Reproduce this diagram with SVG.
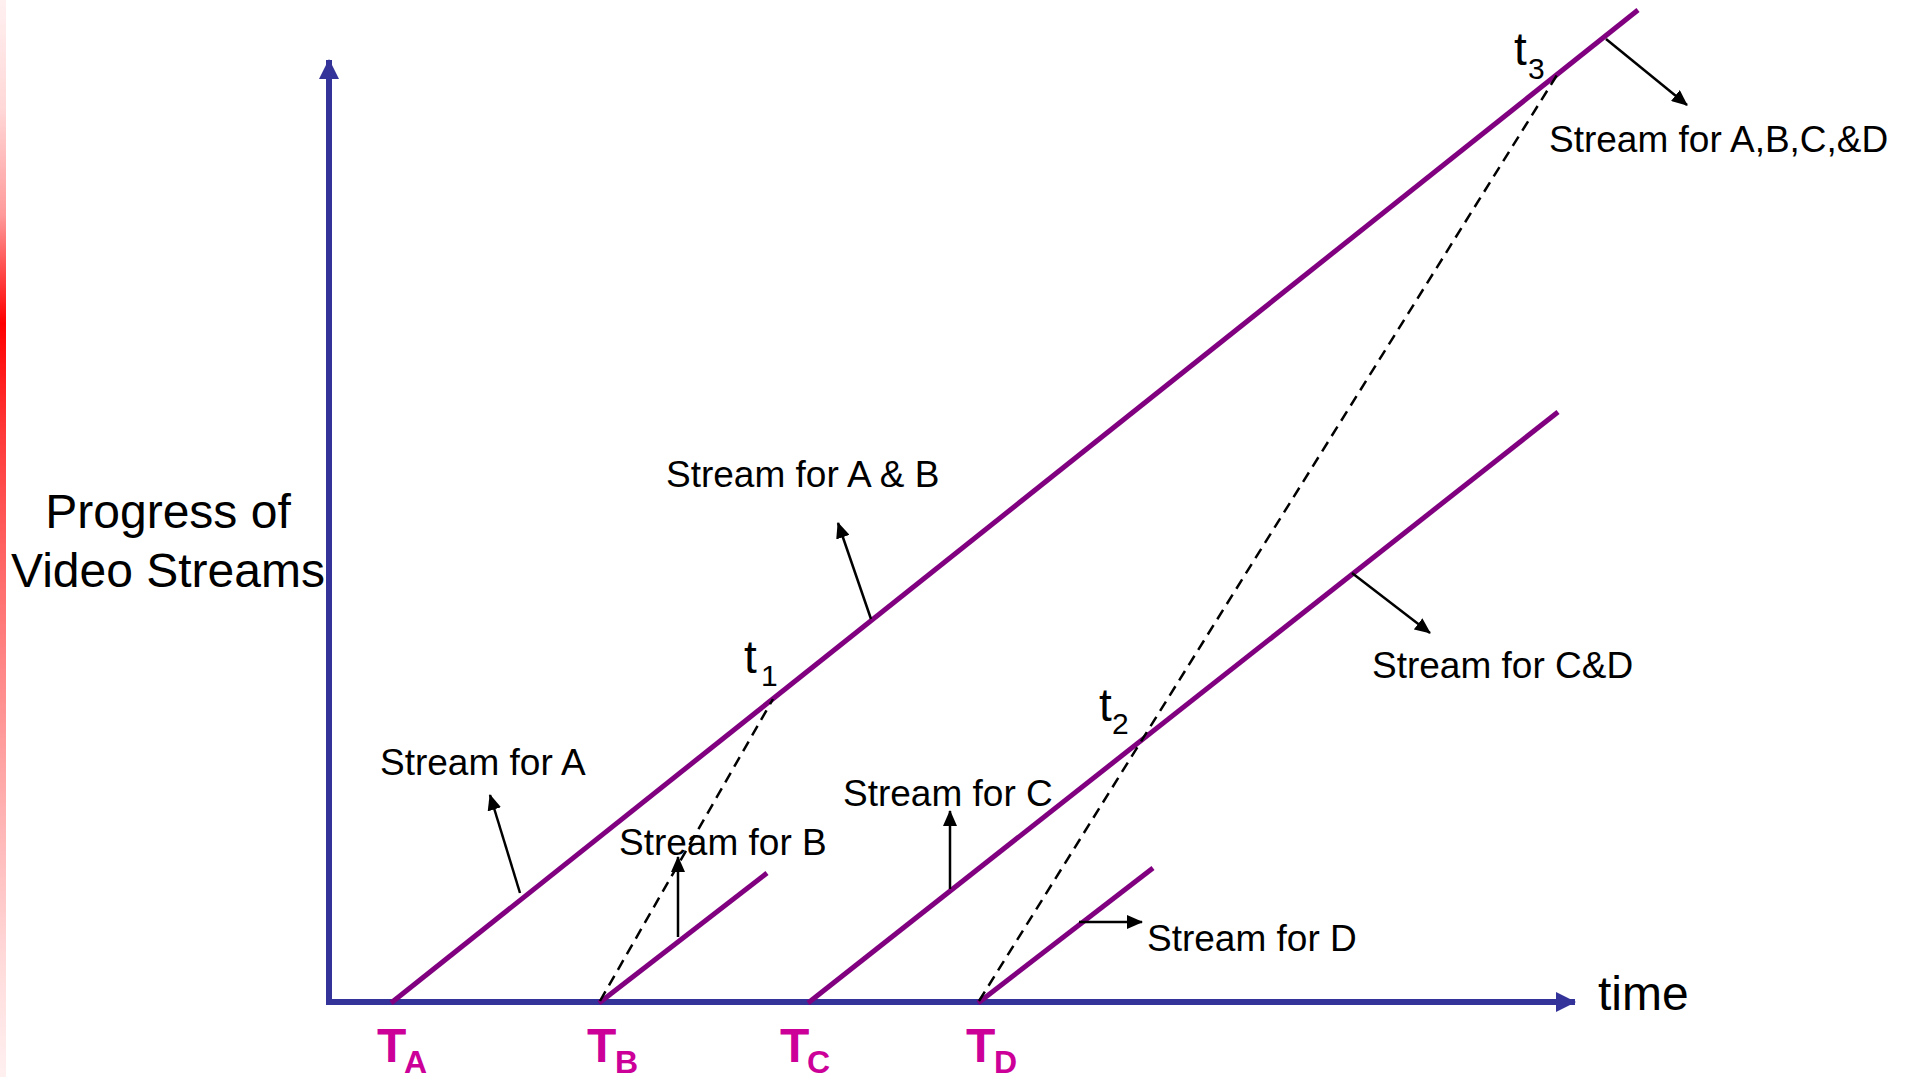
<svg xmlns="http://www.w3.org/2000/svg" width="1910" height="1077" viewBox="0 0 1910 1077">
  <defs>
    <linearGradient id="redstrip" x1="0" y1="0" x2="0" y2="1">
      <stop offset="0" stop-color="#fff0f0"/>
      <stop offset="0.1" stop-color="#ffd8d8"/>
      <stop offset="0.2" stop-color="#ff9a9a"/>
      <stop offset="0.3" stop-color="#ff0000"/>
      <stop offset="0.4" stop-color="#ff3838"/>
      <stop offset="0.55" stop-color="#ff7070"/>
      <stop offset="0.75" stop-color="#ffb0b0"/>
      <stop offset="0.9" stop-color="#ffdcdc"/>
      <stop offset="1" stop-color="#fff0f0"/>
    </linearGradient>
    <marker id="axisHead" markerUnits="userSpaceOnUse" markerWidth="20" markerHeight="20" viewBox="0 0 20 20" refX="19" refY="10" orient="auto">
      <path d="M0,0 L20,10 L0,20 Z" fill="#333399"/>
    </marker>
    <marker id="callHead" markerUnits="userSpaceOnUse" markerWidth="16" markerHeight="14" viewBox="0 0 16 14" refX="15" refY="7" orient="auto">
      <path d="M0,0 L16,7 L0,14 Z" fill="#000"/>
    </marker>
  </defs>
  <style>
    .axis { stroke: #333399; stroke-width: 6; fill: none; }
    .stream { stroke: #800080; stroke-width: 5; fill: none; }
    .dash { stroke: #000; stroke-width: 2.5; stroke-dasharray: 11 7; fill: none; }
    .call { stroke: #000; stroke-width: 2.5; fill: none; marker-end: url(#callHead); }
    .lbl { font-family: "Liberation Sans", Arial, sans-serif; font-size: 37px; fill: #000; }
    .big { font-family: "Liberation Sans", Arial, sans-serif; font-size: 48px; fill: #000; }
    .tt { font-family: "Liberation Sans", Arial, sans-serif; font-size: 46px; fill: #000; }
    .ts { font-family: "Liberation Sans", Arial, sans-serif; font-size: 30px; fill: #000; }
    .T { font-family: "Liberation Sans", Arial, sans-serif; font-weight: bold; font-size: 48px; fill: #cc0099; }
    .Ts { font-family: "Liberation Sans", Arial, sans-serif; font-weight: bold; font-size: 32px; fill: #cc0099; }
  </style>
  <rect x="0" y="0" width="1910" height="1077" fill="#ffffff"/>
  <rect x="0" y="0" width="6" height="1077" fill="url(#redstrip)"/>

  <g id="axes">
    <path class="axis" d="M329,1002 L329,60" marker-end="url(#axisHead)"/>
    <path class="axis" d="M326,1002 L1575,1002" marker-end="url(#axisHead)"/>
  </g>

  <g id="streams">
    <line id="streamA" class="stream" x1="391" y1="1003" x2="1638" y2="10"/>
    <line id="streamB" class="stream" x1="599" y1="1003" x2="767" y2="873"/>
    <line id="streamC" class="stream" x1="808" y1="1003" x2="1558" y2="412"/>
    <line id="streamD" class="stream" x1="978" y1="1003" x2="1153" y2="868"/>
  </g>

  <g id="connectors">
    <line class="dash" x1="600" y1="1001" x2="773" y2="699"/>
    <line class="dash" x1="979" y1="1001" x2="1557" y2="75"/>
    <line class="call" x1="520" y1="893" x2="490" y2="795"/>
    <line class="call" x1="871" y1="619" x2="838" y2="523"/>
    <line class="call" x1="678" y1="937" x2="678" y2="857"/>
    <line class="call" x1="950" y1="889" x2="950" y2="811"/>
    <line class="call" x1="1079" y1="922" x2="1142" y2="922"/>
    <line class="call" x1="1352" y1="573" x2="1430" y2="633"/>
    <line class="call" x1="1606" y1="39" x2="1687" y2="105"/>
  </g>

  <g id="axis-labels">
    <text class="big" x="168" y="528" text-anchor="middle">Progress of</text>
    <text class="big" x="168" y="587" text-anchor="middle">Video Streams</text>
    <text class="big" x="1598" y="1010">time</text>
  </g>

  <g id="time-marks">
    <g id="TA"><text class="T" x="377" y="1062">T</text><text class="Ts" x="404" y="1073">A</text></g>
    <g id="TB"><text class="T" x="587" y="1062">T</text><text class="Ts" x="615" y="1073">B</text></g>
    <g id="TC"><text class="T" x="780" y="1062">T</text><text class="Ts" x="807" y="1073">C</text></g>
    <g id="TD"><text class="T" x="966" y="1062">T</text><text class="Ts" x="994" y="1073">D</text></g>
  </g>

  <g id="merge-points">
    <g id="t1"><text class="tt" x="744" y="673">t</text><text class="ts" x="761" y="686">1</text></g>
    <g id="t2"><text class="tt" x="1099" y="721">t</text><text class="ts" x="1112" y="734">2</text></g>
    <g id="t3"><text class="tt" x="1514" y="65">t</text><text class="ts" x="1528" y="79">3</text></g>
  </g>

  <g id="stream-labels">
    <text class="lbl" x="380" y="775">Stream for A</text>
    <text class="lbl" x="666" y="487">Stream for A &amp; B</text>
    <text class="lbl" x="619" y="855">Stream for B</text>
    <text class="lbl" x="843" y="806">Stream for C</text>
    <text class="lbl" x="1372" y="678">Stream for C&amp;D</text>
    <text class="lbl" x="1147" y="951">Stream for D</text>
    <text class="lbl" x="1549" y="152">Stream for A,B,C,&amp;D</text>
  </g>
</svg>
